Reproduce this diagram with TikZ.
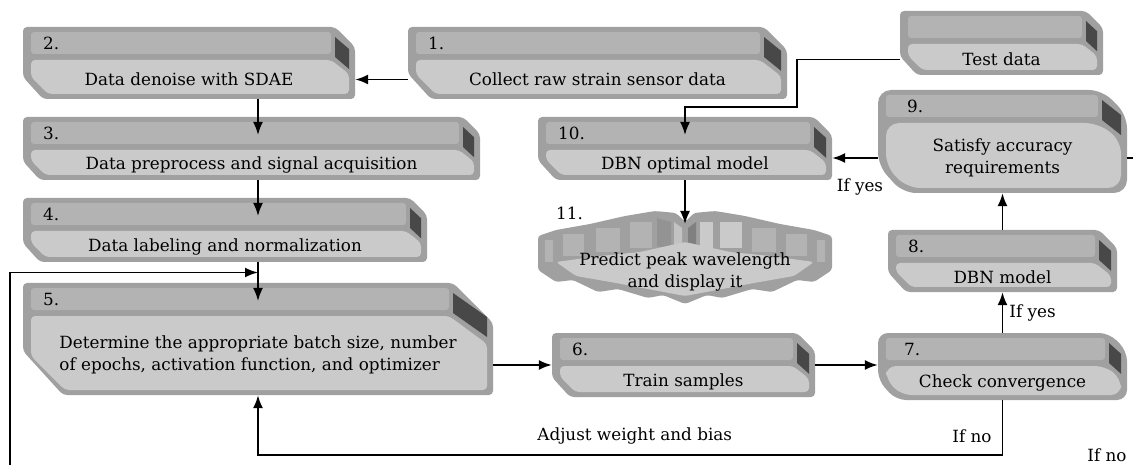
\documentclass[tikz,border=0pt]{standalone}
\usepackage{fontspec}
\setmainfont{DejaVu Serif}
\usetikzlibrary{
  calc,
  positioning,
  arrows.meta}

\definecolor{rimgray}{RGB}{160,160,160}
\definecolor{headgray}{RGB}{179,179,179}
\definecolor{facegray}{RGB}{202,202,202}
\definecolor{tabgray}{RGB}{72,72,72}

% step box: name, x1, y1, x2, y2, chamfer, corner radius, number, text
\newcommand{\flowbox}[9]{%
  \fill[rimgray, rounded corners=#7pt]
    (#2,#3) -- (#4-#6,#3) -- (#4,#3+#6) -- (#4,#5) -- (#2+#6,#5) -- (#2,#5-1.1*#6) -- cycle;
  \fill[headgray, rounded corners=3pt]
    (#2+8,#3+5) rectangle (#4-#6-4,#3+27);
  \fill[facegray, rounded corners=#7pt]
    (#2+8,#3+33) -- (#4-#6-4,#3+33) -- (#4-6,#3+33+0.7*#6) -- (#4-6,#5-5)
    -- (#2+8+0.85*#6,#5-5) -- (#2+8,#5-5-0.85*#6) -- cycle;
  \fill[tabgray]
    (#4-#6,#3+10) -- (#4-6,#3+10+0.6*#6) -- (#4-6,#3+30+0.6*#6) -- (#4-#6,#3+30) -- cycle;
  \node[inner sep=0pt, minimum width={#4-#2}, minimum height={#5-#3}] (#1)
    at ({(#2+#4)/2},{(#3+#5)/2}) {};
  \coordinate (#1-h) at ({(#2+#4)/2},{#3+18});
  \node[boxnum] (#1-n) at (#2+16+#7,#3+16) {#8};
  \node[boxtext] (#1-t) at ({(#2+#4)/2},{(#3+33+#5)/2}) {#9};
}

\begin{document}
\begin{tikzpicture}[
  x=1pt, y=-1pt,
  >={Latex[length=13pt,width=10pt]},
  boxtext/.style={font=\fontsize{16.8}{22}\selectfont, align=center, inner sep=0pt},
  boxnum/.style={font=\fontsize{16.8}{18}\selectfont, anchor=west, inner sep=0pt},
  lbl/.style={font=\fontsize{16.8}{18}\selectfont, inner sep=0pt},
  flow/.style={->, line width=1.8pt}
]%
  \useasboundingbox (0,0) rectangle (1133,465);

  % Left column
  \flowbox{b1}{408}{27}{787}{99}{23}{4}{1.}{Collect raw strain sensor data}
  \flowbox{b2}{23}{27}{355}{99}{20}{4}{2.}{Data denoise with SDAE}
  \flowbox{b3}{23}{117}{480}{180}{17}{4}{3.}{Data preprocess and signal acquisition}
  \flowbox{b4}{23}{198}{427}{262}{17}{4}{4.}{Data labeling and normalization}
  \flowbox{b5}{23}{283}{493}{395}{40}{4}{5.}{\begin{tabular}{@{}l@{}}Determine the appropriate batch size, number\\of epochs, activation function, and optimizer\end{tabular}}

  % Training and model
  \flowbox{b6}{552}{333}{815}{397}{18}{4}{6.}{Train samples}
  \flowbox{b7}{878}{333}{1127}{400}{18}{10}{7.}{Check convergence}
  \flowbox{b8}{888}{230}{1117}{292}{18}{4}{8.}{DBN model}
  \flowbox{b9}{878}{90}{1127}{193}{25}{13}{9.}{Satisfy accuracy\\requirements}
  \flowbox{b10}{538}{117}{832}{180}{18}{4}{10.}{DBN optimal model}
  \flowbox{test}{900}{11}{1103}{75}{17}{4}{}{Test data}

  % Prediction burst
  \fill[rimgray, rounded corners=3pt]
    (538,236) -- (556,230) -- (590,224) -- (625,216) -- (655,211) -- (676,213) -- (685,222)
    -- (694,213) -- (715,211) -- (745,216) -- (780,224) -- (814,230) -- (832,236)
    -- (832,270) -- (814,282) -- (797,280) -- (772,292) -- (752,289) -- (722,298) -- (707,295)
    -- (685,304) -- (663,295) -- (648,298) -- (618,289) -- (598,292) -- (573,280) -- (556,282)
    -- (538,270) -- cycle;
  \fill[headgray] (545,240) rectangle (553,262);
  \fill[headgray] (563,234) rectangle (584,256);
  \fill[headgray] (596,228) rectangle (620,252);
  \fill[headgray] (630,222) rectangle (652,248);
  \fill[gray!85] (657,218) -- (671,222) -- (671,250) -- (657,246) -- cycle;
  \fill[headgray!80!white] (674,222) -- (682,228) -- (682,252) -- (674,248) -- cycle;
  \fill[gray] (688,228) -- (696,222) -- (696,248) -- (688,252) -- cycle;
  \fill[headgray!70!white] (700,222) rectangle (713,248);
  \fill[headgray!70!white] (720,222) rectangle (742,248);
  \fill[headgray] (752,228) rectangle (776,252);
  \fill[headgray] (786,234) rectangle (807,256);
  \fill[headgray] (817,240) rectangle (825,262);
  \fill[facegray, rounded corners=3pt]
    (556,262) -- (600,256) -- (640,252) -- (685,242) -- (730,252) -- (770,256) -- (814,262)
    -- (794,276) -- (754,283) -- (717,290) -- (685,296) -- (653,290) -- (616,283) -- (576,276) -- cycle;
  \node[boxnum] (b11-n) at (556,213) {11.};
  \coordinate (b11-h) at (685,224);
  \node[boxtext] (b11) at (685,272) {Predict peak wavelength\\and display it};

  % Connectors
  \draw[flow] (b1-t -| b1.west) -- (b1-t -| b2.east);
  \draw[flow] (b2.south -| b5) -- (b3-h -| b5);
  \draw[flow] (b3.south -| b5) -- (b4-h -| b5);
  \draw[flow] (b4.south -| b5) -- (b5-h -| b5);
  \coordinate (loopin) at (10,465);
  \draw[flow] (loopin) |- ($(b4.south -| b5)!0.5!(b5.north)$);
  \draw[flow] (b6 -| b5.east) -- (b6.west);
  \draw[flow] (b6.east) -- (b6.east -| b7.west);
  \draw[flow] (b7.north) -- node[lbl, right=6pt] {If yes} (b8.south);
  \draw[flow] (b8.north) -- (b9.south);
  \draw[flow] (b9-t -| b9.west) -- node[lbl, below=20pt, xshift=5pt] {If yes} (b9-t -| b10.east);
  \coordinate (bend) at (797,107);
  \draw[flow] (test-t -| test.west) -| (bend) -| (b10-h);
  \draw[flow] (b7.south) -- node[lbl, pos=0.65, left=10pt] {If no} (b7.south |- 0,455)
    -| node[lbl, pos=0.247, above=10pt] {Adjust weight and bias} (b5.south);
  \draw[flow] (b10.south) -- (b11-h);
  \coordinate (exit) at (1133,158);
  \draw[line width=1.8pt] (b9.east |- b9-t) -- (exit |- b9-t);
  \node[lbl] (ifno) at (1107,455) {If no};
\end{tikzpicture}
\end{document}
